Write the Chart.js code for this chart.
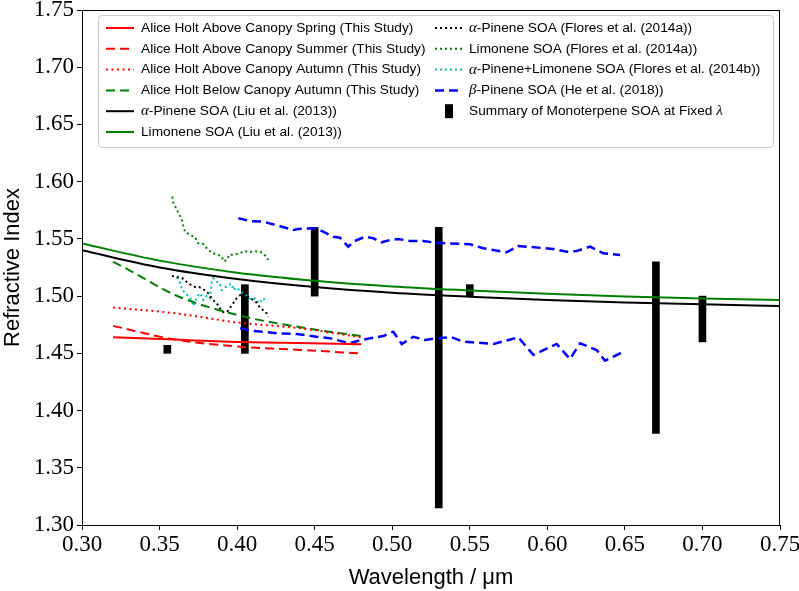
<!DOCTYPE html>
<html>
<head>
<meta charset="utf-8">
<script src="https://cdn.jsdelivr.net/npm/chart.js@4.4.1/dist/chart.umd.min.js"></script>
<style>
  html, body { margin: 0; padding: 0; background: #fff; }
  #wrap { width: 799px; height: 591px; }
</style>
</head>
<body>
<div id="wrap"><canvas id="riChart" width="799" height="591"></canvas></div>
<script>
// ===== data =====
const liuWl = [0.30, 0.35, 0.40, 0.45, 0.50, 0.55, 0.60, 0.65, 0.70, 0.75];
const liuAlpha = [1.540, 1.525, 1.515, 1.508, 1.503, 1.4995, 1.4967, 1.4945, 1.4928, 1.4914];
const liuLimonene = [1.546, 1.531, 1.5205, 1.5135, 1.5085, 1.505, 1.502, 1.4997, 1.498, 1.4966];

const ahWl = [0.32, 0.36, 0.40, 0.44, 0.48];
const ahSpring = [1.464, 1.462, 1.460, 1.459, 1.458];
const ahSummer = [1.474, 1.462, 1.456, 1.453, 1.450];
const ahAutumn = [1.490, 1.485, 1.477, 1.472, 1.464];
const ahBelowWl = [0.32, 0.33, 0.36, 0.40, 0.44, 0.48];
const ahBelow = [1.530, 1.523, 1.501, 1.4835, 1.473, 1.465];

const floresAlphaWl = [0.358, 0.3612, 0.3645, 0.369, 0.3728, 0.3754, 0.378, 0.3812, 0.3845, 0.3877,
  0.3903, 0.3935, 0.3967, 0.3999, 0.4038, 0.4103, 0.4128, 0.4148, 0.4186, 0.4199];
const floresAlpha = [1.5176, 1.5167, 1.5158, 1.5106, 1.508, 1.508, 1.5062, 1.5027, 1.4966, 1.4922,
  1.4861, 1.4861, 1.4922, 1.4984, 1.5027, 1.4966, 1.494, 1.4896, 1.4861, 1.4818];

const floresLimWl = [0.3582, 0.3589, 0.3606, 0.3625, 0.3643, 0.3653, 0.3664, 0.3696, 0.373, 0.3746,
  0.3782, 0.3808, 0.3838, 0.3872, 0.3898, 0.3914, 0.3935, 0.395, 0.3978, 0.4014, 0.4049, 0.4083,
  0.412, 0.4156, 0.4182, 0.4201];
const floresLim = [1.5869, 1.5816, 1.577, 1.5718, 1.5671, 1.5615, 1.5563, 1.5534, 1.5514, 1.5464,
  1.5455, 1.5412, 1.5379, 1.5362, 1.5351, 1.5304, 1.5316, 1.5362, 1.5362, 1.5374, 1.5392, 1.5386,
  1.5392, 1.5383, 1.5353, 1.5316];

const floresMixWl = [0.3611, 0.3632, 0.3643, 0.3664, 0.3685, 0.3707, 0.3718, 0.3739, 0.3756, 0.3772,
  0.3782, 0.3804, 0.3825, 0.3836, 0.3847, 0.3868, 0.3885, 0.3901, 0.3922, 0.3943, 0.3965, 0.3975,
  0.3993, 0.404, 0.4066, 0.4094, 0.4115, 0.4143, 0.4169, 0.4191];
const floresMix = [1.5164, 1.5117, 1.506, 1.503, 1.5001, 1.4966, 1.4913, 1.4981, 1.5025, 1.5001,
  1.4966, 1.5001, 1.4981, 1.5112, 1.5156, 1.5126, 1.5117, 1.5053, 1.5075, 1.5097, 1.5106, 1.5053,
  1.5075, 1.5025, 1.5001, 1.4966, 1.4981, 1.4937, 1.4981, 1.4943];

const heUpperWl = [0.4008, 0.4083, 0.4169, 0.4266, 0.4362, 0.4394, 0.4491, 0.4545, 0.462, 0.4663,
  0.4717, 0.4749, 0.4824, 0.4878, 0.4932, 0.4985, 0.5039, 0.5115, 0.52, 0.5276, 0.5351, 0.5501,
  0.5587, 0.5738, 0.5813, 0.6039, 0.6125, 0.6189, 0.6275, 0.6361, 0.6469];
const heUpper = [1.568, 1.5656, 1.565, 1.5615, 1.5578, 1.5587, 1.5593, 1.5569, 1.5519, 1.551,
  1.5432, 1.5476, 1.5519, 1.5505, 1.547, 1.549, 1.5499, 1.5482, 1.5482, 1.5467, 1.5462, 1.5453,
  1.5418, 1.5383, 1.5438, 1.5412, 1.5388, 1.5394, 1.5432, 1.5374, 1.5359];

const heLowerWl = [0.4019, 0.4083, 0.4169, 0.4255, 0.4384, 0.4513, 0.4599, 0.4685, 0.4728, 0.4781,
  0.4857, 0.4943, 0.5007, 0.5061, 0.5136, 0.5211, 0.5276, 0.5383, 0.5458, 0.5652, 0.5813, 0.591,
  0.606, 0.6146, 0.6211, 0.6318, 0.6372, 0.6479];
const heLower = [1.4719, 1.4698, 1.4689, 1.4675, 1.4669, 1.4645, 1.4631, 1.4602, 1.4588, 1.461,
  1.4631, 1.4652, 1.4689, 1.4582, 1.4645, 1.4617, 1.4631, 1.464, 1.4602, 1.4582, 1.464, 1.4486,
  1.4582, 1.445, 1.4588, 1.4529, 1.4436, 1.4506];

// summary of monoterpene SOA at fixed wavelength (min / max)
const sumWl = [0.355, 0.405, 0.45, 0.53, 0.55, 0.67, 0.70];
const sumLow = [1.450, 1.450, 1.500, 1.315, 1.500, 1.380, 1.460];
const sumHigh = [1.457, 1.510, 1.560, 1.560, 1.510, 1.530, 1.500];

const xTicks = [0.30, 0.35, 0.40, 0.45, 0.50, 0.55, 0.60, 0.65, 0.70, 0.75];
const yTicks = [1.30, 1.35, 1.40, 1.45, 1.50, 1.55, 1.60, 1.65, 1.70, 1.75];

// ===== helpers =====
function pts(xs, ys) {
    return xs.map((x, i) => ({ x: x, y: ys[i] }));
}

function lineSet(label, xs, ys, color, dash, width, smooth) {
    return {
        type: "line",
        label: label,
        data: pts(xs, ys),
        borderColor: color,
        backgroundColor: color,
        borderWidth: width,
        borderDash: dash,
        borderCapStyle: "butt",
        pointRadius: 0,
        fill: false,
        tension: 0,
        cubicInterpolationMode: smooth ? "monotone" : "default",
        order: 0
    };
}

const DASH = [9, 5];
const DOT = [2, 3.5];
const FDOT = [2, 3];

const datasets = [
    lineSet("Alice Holt Above Canopy Spring (This Study)", ahWl, ahSpring, "#ff0000", [], 2, true),
    lineSet("Alice Holt Above Canopy Summer (This Study)", ahWl, ahSummer, "#ff0000", DASH, 2, true),
    lineSet("Alice Holt Above Canopy Autumn (This Study)", ahWl, ahAutumn, "#ff0000", DOT, 2, true),
    lineSet("Alice Holt Below Canopy Autumn (This Study)", ahBelowWl, ahBelow, "#008000", DASH, 2, true),
    lineSet("α-Pinene SOA (Liu et al. (2013))", liuWl, liuAlpha, "#000000", [], 2, true),
    lineSet("Limonene SOA (Liu et al. (2013))", liuWl, liuLimonene, "#008000", [], 2, true),
    lineSet("α-Pinene SOA (Flores et al. (2014a))", floresAlphaWl, floresAlpha, "#000000", FDOT, 2, false),
    lineSet("Limonene SOA (Flores et al. (2014a))", floresLimWl, floresLim, "#008000", FDOT, 2, false),
    lineSet("α-Pinene+Limonene SOA (Flores et al. (2014b))", floresMixWl, floresMix, "#00bfbf", FDOT, 2, false),
    lineSet("β-Pinene SOA (He et al. (2018))", heUpperWl, heUpper, "#0000ff", DASH, 2.5, false),
    lineSet("", heLowerWl, heLower, "#0000ff", DASH, 2.5, false),
    {
        type: "bar",
        label: "Summary of Monoterpene SOA at Fixed λ",
        data: sumWl.map((x, i) => ({ x: x, y: [sumLow[i], sumHigh[i]] })),
        backgroundColor: "#000000",
        borderWidth: 0,
        barThickness: 7,
        grouped: false,
        order: 1
    }
];

// ===== plugins =====
const framePlugin = {
    id: "frame",
    afterDatasetsDraw(chart) {
        const a = chart.chartArea;
        const ctx = chart.ctx;
        ctx.save();
        ctx.strokeStyle = "#000";
        ctx.lineWidth = 1;
        ctx.strokeRect(a.left + 0.5, a.top + 0.5, a.right - a.left - 1, a.bottom - a.top);
        ctx.restore();
    }
};

function drawRich(ctx, text, x, y) {
    let cx = x;
    for (const ch of text) {
        if ("αβλ".includes(ch)) {
            ctx.font = "italic 15px 'Liberation Serif'";
        } else {
            ctx.font = "13.7px 'Liberation Sans'";
        }
        ctx.fillText(ch, cx, y);
        cx += ctx.measureText(ch).width;
    }
}

const legendPlugin = {
    id: "boxLegend",
    afterDraw(chart) {
        const ctx = chart.ctx;
        const box = { l: 98, t: 15, r: 773, b: 147 };
        ctx.save();
        ctx.fillStyle = "rgba(255,255,255,0.85)";
        ctx.strokeStyle = "#cccccc";
        ctx.lineWidth = 1;
        ctx.beginPath();
        ctx.roundRect(box.l + 0.5, box.t + 0.5, box.r - box.l, box.b - box.t, 4);
        ctx.fill();
        ctx.stroke();

        const cols = [
            { items: [0, 1, 2, 3, 4, 5], x0: 106, x1: 134, tx: 141 },
            { items: [6, 7, 8, 9, 11], x0: 435, x1: 463, tx: 469 }
        ];
        ctx.textBaseline = "middle";
        ctx.fillStyle = "#000";
        cols.forEach(col => {
            col.items.forEach((di, row) => {
                const ds = chart.data.datasets[di];
                const y = 28 + row * 20.8;
                if (ds.type === "bar") {
                    ctx.fillStyle = ds.backgroundColor;
                    ctx.fillRect(445, y - 7, 8, 14);
                } else {
                    ctx.strokeStyle = ds.borderColor;
                    ctx.lineWidth = ds.borderWidth;
                    ctx.setLineDash(ds.borderDash);
                    ctx.lineCap = "butt";
                    ctx.beginPath();
                    ctx.moveTo(col.x0, y);
                    ctx.lineTo(col.x1, y);
                    ctx.stroke();
                    ctx.setLineDash([]);
                }
                ctx.fillStyle = "#000";
                drawRich(ctx, ds.label, col.tx, y);
            });
        });
        ctx.restore();
    }
};

// ===== chart =====
const tickFont = { family: "'Liberation Serif'", size: 23 };
const titleFont = { family: "'Liberation Sans'", size: 22 };

new Chart(document.getElementById("riChart"), {
    type: "line",
    data: { datasets: datasets },
    options: {
        responsive: false,
        animation: false,
        events: [],
        layout: { padding: { left: 0, right: 19, top: 10, bottom: 0 } },
        plugins: {
            legend: { display: false },
            tooltip: { enabled: false }
        },
        scales: {
            x: {
                type: "linear",
                min: 0.30,
                max: 0.75,
                offset: false,
                afterBuildTicks: axis => { axis.ticks = xTicks.map(v => ({ value: v })); },
                ticks: {
                    color: "#000",
                    font: tickFont,
                    padding: 1,
                    maxRotation: 0,
                    callback: v => v.toFixed(2)
                },
                grid: { drawOnChartArea: false, drawTicks: true, tickLength: 5, color: "#000", offset: false },
                border: { display: true, color: "#000" },
                title: { display: true, text: "Wavelength / μm", color: "#000", font: titleFont, padding: 0 },
                afterFit: s => { s.height = 66; s.paddingLeft = 0; s.paddingRight = 0; }
            },
            y: {
                min: 1.30,
                max: 1.75,
                afterBuildTicks: axis => { axis.ticks = yTicks.map(v => ({ value: v })); },
                ticks: {
                    color: "#000",
                    font: tickFont,
                    padding: 3,
                    callback: v => v.toFixed(2)
                },
                grid: { drawOnChartArea: false, drawTicks: true, tickLength: 5, color: "#000" },
                border: { display: true, color: "#000" },
                title: { display: true, text: "Refractive Index", color: "#000", font: titleFont, padding: 0 },
                afterFit: s => { s.width = 82; s.paddingTop = 0; s.paddingBottom = 0; }
            }
        }
    },
    plugins: [framePlugin, legendPlugin]
});
</script>
</body>
</html>
